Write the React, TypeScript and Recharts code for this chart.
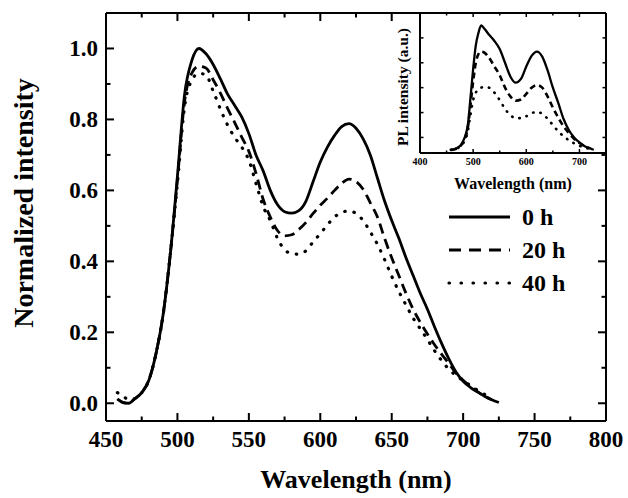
import React from 'react';
import { LineChart, Line, XAxis, YAxis, Legend, ReferenceArea } from 'recharts';

// ---------- main plot data ----------
const wavelengths = [458, 462, 466, 470, 475, 480, 485, 490, 495, 500, 505, 510, 515, 520, 525, 530, 535, 540, 545, 550, 555, 560, 565, 570, 575, 580, 585, 590, 595, 600, 605, 610, 615, 620, 625, 630, 635, 640, 645, 650, 655, 660, 665, 670, 675, 680, 685, 690, 695, 700, 705, 710, 715, 720, 725];
const h0 = [0.012, 0.002, 0.0, 0.012, 0.03, 0.065, 0.14, 0.25, 0.42, 0.64, 0.87, 0.965, 1.0, 0.985, 0.955, 0.915, 0.872, 0.84, 0.807, 0.76, 0.70, 0.655, 0.60, 0.56, 0.54, 0.536, 0.543, 0.57, 0.625, 0.68, 0.722, 0.755, 0.78, 0.788, 0.775, 0.745, 0.70, 0.635, 0.57, 0.515, 0.465, 0.41, 0.36, 0.31, 0.265, 0.215, 0.168, 0.125, 0.088, 0.062, 0.045, 0.032, 0.02, 0.01, 0.002];
const h20 = [0.012, 0.002, 0.0, 0.012, 0.03, 0.065, 0.14, 0.25, 0.42, 0.63, 0.85, 0.93, 0.95, 0.945, 0.912, 0.875, 0.832, 0.792, 0.75, 0.71, 0.648, 0.575, 0.525, 0.487, 0.472, 0.475, 0.49, 0.51, 0.535, 0.558, 0.578, 0.6, 0.62, 0.632, 0.625, 0.603, 0.565, 0.525, 0.465, 0.41, 0.36, 0.31, 0.265, 0.228, 0.195, 0.165, 0.138, 0.112, 0.085, 0.065, 0.048, 0.033, 0.02, 0.01, null];
const h40 = [0.03, 0.02, 0.01, 0.013, 0.03, 0.065, 0.14, 0.25, 0.42, 0.62, 0.835, 0.91, 0.93, 0.925, 0.88, 0.83, 0.785, 0.75, 0.722, 0.685, 0.62, 0.555, 0.515, 0.465, 0.433, 0.422, 0.42, 0.43, 0.455, 0.478, 0.503, 0.525, 0.538, 0.542, 0.535, 0.515, 0.483, 0.448, 0.405, 0.358, 0.315, 0.277, 0.24, 0.21, 0.18, 0.148, 0.12, 0.096, 0.078, 0.064, 0.05, 0.037, 0.025, 0.015, null];

// ---------- inset data ----------
const insetWavelengths = [458, 465, 470, 480, 490, 495, 500, 505, 510, 515, 520, 530, 540, 550, 560, 570, 580, 590, 600, 610, 620, 630, 640, 650, 660, 670, 680, 690, 700, 710, 720, 727];
const insetH0 = [0.0, 0.005, 0.015, 0.06, 0.2, 0.42, 0.65, 0.84, 0.94, 1.0, 0.98, 0.925, 0.875, 0.81, 0.7, 0.59, 0.54, 0.57, 0.67, 0.755, 0.79, 0.75, 0.64, 0.5, 0.38, 0.25, 0.16, 0.1, 0.06, 0.03, 0.012, 0.0];
const insetH20 = [0.0, 0.005, 0.014, 0.055, 0.18, 0.36, 0.55, 0.7, 0.77, 0.79, 0.785, 0.74, 0.67, 0.6, 0.5, 0.43, 0.395, 0.405, 0.45, 0.5, 0.52, 0.5, 0.43, 0.34, 0.26, 0.19, 0.135, 0.09, 0.055, 0.03, 0.012, null];
const insetH40 = [0.0, 0.005, 0.012, 0.045, 0.15, 0.28, 0.4, 0.46, 0.49, 0.5, 0.505, 0.5, 0.46, 0.4, 0.33, 0.28, 0.255, 0.255, 0.27, 0.295, 0.305, 0.29, 0.25, 0.2, 0.15, 0.11, 0.078, 0.052, 0.033, 0.018, 0.008, null];

// ---------- ticks & labels ----------
const xTicks = [450, 475, 500, 525, 550, 575, 600, 625, 650, 675, 700, 725, 750, 775, 800];
const yTicks = [0, 0.1, 0.2, 0.3, 0.4, 0.5, 0.6, 0.7, 0.8, 0.9, 1.0];
const insetXTicks = [400, 450, 500, 550, 600, 650, 700, 750];
const insetYTicks = [0.1, 0.3, 0.5, 0.7, 0.9];
const legendLabels = ['0 h', '20 h', '40 h'];
const xTitle = 'Wavelength (nm)';
const yTitle = 'Normalized intensity';
const insetXTitle = 'Wavelength (nm)';
const insetYTitle = 'PL intensity (a.u.)';

const mainData = wavelengths.map((w, i) => ({ w, h0: h0[i], h20: h20[i], h40: h40[i] }));
const insetData = insetWavelengths.map((w, i) => ({ w, h0: insetH0[i], h20: insetH20[i], h40: insetH40[i] }));

const FONT = '"Liberation Serif", "Times New Roman", serif';
const STYLES = [
  { key: 'h0', dash: undefined as string | undefined, legendDash: undefined as string | undefined, width: 2.8, cap: 'butt' as const },
  { key: 'h20', dash: '10 6', legendDash: '12 8', width: 2.8, cap: 'butt' as const },
  { key: 'h40', dash: '0.5 9', legendDash: '0.5 11.5', width: 3.2, cap: 'round' as const },
];
const INSET_STYLES = [
  { key: 'h0', dash: undefined as string | undefined, width: 2.3, cap: 'butt' as const },
  { key: 'h20', dash: '6 4', width: 2.6, cap: 'butt' as const },
  { key: 'h40', dash: '0.5 7', width: 2.6, cap: 'round' as const },
];

type Side = 'bottom' | 'top' | 'left' | 'right';
interface TickOpts {
  isMajor: (v: number) => boolean;
  fmt?: (v: number) => string | null;
  majorLen: number;
  minorLen: number;
  w: number;
  fontSize?: number;
  gap?: number;
}
function makeTick(side: Side, o: TickOpts) {
  return (props: any) => {
    const x = Number(props.x);
    const y = Number(props.y);
    const v = Number(props.payload?.value);
    const major = o.isMajor(v);
    const len = major ? o.majorLen : o.minorLen;
    const label = major && o.fmt ? o.fmt(v) : null;
    let rx = 0, ry = 0, rw = 0, rh = 0;
    if (side === 'bottom') { rx = x - o.w / 2; ry = y - len; rw = o.w; rh = len; }
    if (side === 'top') { rx = x - o.w / 2; ry = y; rw = o.w; rh = len; }
    if (side === 'left') { rx = x; ry = y - o.w / 2; rw = len; rh = o.w; }
    if (side === 'right') { rx = x - len; ry = y - o.w / 2; rw = len; rh = o.w; }
    const gap = o.gap ?? 6;
    return (
      <g>
        <rect x={rx} y={ry} width={rw} height={rh} fill="#000" />
        {label !== null && side === 'bottom' && (
          <text x={x} y={y + gap} textAnchor="middle" dominantBaseline="hanging" fontFamily={FONT} fontWeight="bold" fontSize={o.fontSize} fill="#000">{label}</text>
        )}
        {label !== null && side === 'left' && (
          <text x={x - gap} y={y} textAnchor="end" dominantBaseline="central" fontFamily={FONT} fontWeight="bold" fontSize={o.fontSize} fill="#000">{label}</text>
        )}
      </g>
    );
  };
}

const isMajorX = (v: number) => v % 50 === 0;
const isMajorY = (v: number) => Math.round(v * 10) % 2 === 0;
const isMajorInsetX = (v: number) => v % 100 === 0;

const LegendBox = () => (
  <svg width={170} height={110} style={{ display: 'block' }}>
    {legendLabels.map((lab, i) => {
      const s = STYLES[i];
      const cy = 17 + i * 33;
      return (
        <g key={lab}>
          <line x1={9} x2={70} y1={cy} y2={cy} stroke="#000" strokeWidth={s.width} strokeDasharray={s.legendDash} strokeLinecap={s.cap} />
          <text x={82} y={cy} dominantBaseline="central" fontFamily={FONT} fontWeight="bold" fontSize={24} fill="#000">{lab}</text>
        </g>
      );
    })}
  </svg>
);

const frame = { stroke: '#000', strokeWidth: 2 };

export default function App() {
  return (
    <div style={{ position: 'absolute', left: 0, top: 0, width: 628, height: 498, background: '#fff' }}>
      <div style={{ position: 'absolute', left: 0, top: 0 }}>
        <LineChart width={628} height={498} data={mainData} margin={{ top: 13, right: 22, bottom: 0, left: 0 }}>
          <XAxis dataKey="w" type="number" domain={[450, 800]} ticks={xTicks} interval={0} height={77}
            axisLine={frame} tickLine={false} tickSize={0} tickMargin={0}
            tick={makeTick('bottom', { isMajor: isMajorX, fmt: (v) => String(v), majorLen: 8, minorLen: 4.5, w: 2, fontSize: 23, gap: 10 })}
            label={(p: any) => {
              const vb = p.viewBox;
              return <text x={vb.x + vb.width / 2} y={vb.y + 58} textAnchor="middle" dominantBaseline="central" fontFamily={FONT} fontWeight="bold" fontSize={26} fill="#000">{xTitle}</text>;
            }}
          />
          <YAxis type="number" domain={[-0.05, 1.1]} ticks={yTicks} interval={0} width={106}
            axisLine={frame} tickLine={false} tickSize={0} tickMargin={0}
            tick={makeTick('left', { isMajor: isMajorY, fmt: (v) => v.toFixed(1), majorLen: 8, minorLen: 4.5, w: 2, fontSize: 23, gap: 8 })}
            label={(p: any) => {
              const vb = p.viewBox;
              const cx = vb.x + 23;
              const cy = vb.y + vb.height / 2 - 14;
              return <text x={cx} y={cy} transform={`rotate(-90 ${cx} ${cy})`} textAnchor="middle" dominantBaseline="central" fontFamily={FONT} fontWeight="bold" fontSize={28} fill="#000">{yTitle}</text>;
            }}
          />
          <XAxis xAxisId="top" dataKey="w" mirror orientation="top" type="number" domain={[450, 800]} ticks={xTicks} interval={0} height={10}
            axisLine={frame} tickLine={false} tickSize={0} tickMargin={0}
            tick={makeTick('top', { isMajor: isMajorX, majorLen: 8, minorLen: 4.5, w: 2 })} />
          <YAxis yAxisId="right" mirror orientation="right" type="number" domain={[-0.05, 1.1]} ticks={yTicks} interval={0} width={10}
            axisLine={frame} tickLine={false} tickSize={0} tickMargin={0}
            tick={makeTick('right', { isMajor: isMajorY, majorLen: 8, minorLen: 4.5, w: 2 })} />
          <Line xAxisId="top" yAxisId="right" dataKey="h0" stroke="none" dot={false} activeDot={false} isAnimationActive={false} legendType="none" />
          {STYLES.map((s) => (
            <Line key={s.key} dataKey={s.key} type="monotone" stroke="#000" strokeWidth={s.width} strokeDasharray={s.dash}
              strokeLinecap={s.cap} dot={false} activeDot={false} isAnimationActive={false} connectNulls={false} />
          ))}
          <Legend layout="vertical" align="center" verticalAlign="middle" content={() => <LegendBox />}
            wrapperStyle={{ position: 'absolute', left: 440, top: 200, width: 170, height: 110 }} />
        </LineChart>
      </div>
      <div style={{ position: 'absolute', left: 380, top: 0 }}>
        <LineChart width={248} height={200} data={insetData} margin={{ top: 13, right: 22, bottom: 0, left: 0 }}>
          <ReferenceArea x1={400} x2={750} y1={-0.025} y2={1.1} fill="#fff" fillOpacity={1} stroke="none" ifOverflow="hidden" />
          <XAxis dataKey="w" type="number" domain={[400, 750]} ticks={insetXTicks} interval={0} height={47}
            axisLine={frame} tickLine={false} tickSize={0} tickMargin={0}
            tick={makeTick('bottom', { isMajor: isMajorInsetX, fmt: (v) => (v < 750 ? String(v) : null), majorLen: 4, minorLen: 2.5, w: 1.5, fontSize: 10, gap: 5 })}
            label={(p: any) => {
              const vb = p.viewBox;
              return <text x={vb.x + vb.width / 2} y={vb.y + 30} textAnchor="middle" dominantBaseline="central" fontFamily={FONT} fontWeight="bold" fontSize={16} fill="#000">{insetXTitle}</text>;
            }}
          />
          <YAxis type="number" domain={[-0.025, 1.1]} ticks={insetYTicks} interval={0} width={40}
            axisLine={frame} tickLine={false} tickSize={0} tickMargin={0}
            tick={makeTick('left', { isMajor: () => true, majorLen: 3.5, minorLen: 2, w: 1.5 })}
            label={(p: any) => {
              const vb = p.viewBox;
              const cx = vb.x + 22;
              const cy = vb.y + vb.height / 2 + 4;
              return <text x={cx} y={cy} transform={`rotate(-90 ${cx} ${cy})`} textAnchor="middle" dominantBaseline="central" fontFamily={FONT} fontWeight="bold" fontSize={15.5} fill="#000">{insetYTitle}</text>;
            }}
          />
          <XAxis xAxisId="top" dataKey="w" mirror orientation="top" type="number" domain={[400, 750]} ticks={insetXTicks} interval={0} height={6}
            axisLine={frame} tickLine={false} tickSize={0} tickMargin={0}
            tick={makeTick('top', { isMajor: isMajorInsetX, majorLen: 4, minorLen: 2.5, w: 1.5 })} />
          <YAxis yAxisId="right" mirror orientation="right" type="number" domain={[-0.025, 1.1]} ticks={insetYTicks} interval={0} width={6}
            axisLine={frame} tickLine={false} tickSize={0} tickMargin={0}
            tick={makeTick('right', { isMajor: () => true, majorLen: 3.5, minorLen: 2, w: 1.5 })} />
          <Line xAxisId="top" yAxisId="right" dataKey="h0" stroke="none" dot={false} activeDot={false} isAnimationActive={false} legendType="none" />
          {INSET_STYLES.map((s) => (
            <Line key={s.key} dataKey={s.key} type="monotone" stroke="#000" strokeWidth={s.width} strokeDasharray={s.dash}
              strokeLinecap={s.cap} dot={false} activeDot={false} isAnimationActive={false} connectNulls={false} />
          ))}
        </LineChart>
      </div>
    </div>
  );
}
